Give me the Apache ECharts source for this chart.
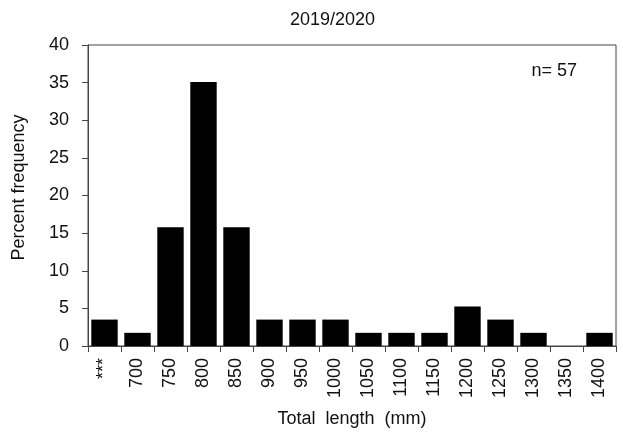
<!DOCTYPE html>
<html><head><meta charset="utf-8">
<script src="https://cdn.jsdelivr.net/npm/echarts@6/dist/echarts.min.js"></script>
<style>html,body{margin:0;padding:0;background:#fff}#c{width:623px;height:433px}</style>
</head><body><div id="c"></div>
<script>
const categories = ['***','700','750','800','850','900','950','1000','1050','1100','1150','1200','1250','1300','1350','1400'];
const percentFrequency = [3.51,1.75,15.79,35.09,15.79,3.51,3.51,3.51,1.75,1.75,1.75,5.26,3.51,1.75,0,1.75];
const yTicks = [0,5,10,15,20,25,30,35,40];
const titleText = '2019/2020';
const nText = 'n= 57';
const font = 'Liberation Sans, Arial, sans-serif';
const chart = echarts.init(document.getElementById('c'));
chart.setOption({
  animation:false,
  title:{text:titleText,left:285,top:6,textStyle:{fontFamily:font,fontSize:18,fontWeight:'normal',color:'#111'}},
  grid:{left:88,right:7,top:45,bottom:87,outerBoundsMode:'none',containLabel:false,show:true,borderColor:'#444',borderWidth:1,backgroundColor:'transparent'},
  graphic:[{type:'text',right:46,top:62,style:{text:nText,font:'18px '+font,fill:'#111'}}],
  xAxis:{type:'category',data:categories,name:'Total  length  (mm)',nameLocation:'middle',nameGap:64,
    nameTextStyle:{fontFamily:font,fontSize:18,color:'#111'},
    axisLine:{lineStyle:{color:'#444',width:1}},
    axisTick:{show:true,alignWithLabel:false,length:6,lineStyle:{color:'#444'}},
    axisLabel:{rotate:90,interval:0,margin:12,fontFamily:font,fontSize:18,color:'#111'}},
  yAxis:{type:'value',min:0,max:40,interval:5,name:'Percent frequency',nameLocation:'middle',nameGap:60,
    nameTextStyle:{fontFamily:font,fontSize:18,color:'#111',padding:[0,0,0,16]},
    splitLine:{show:false},
    axisLine:{show:true,lineStyle:{color:'#444',width:1}},
    axisTick:{show:true,length:6,lineStyle:{color:'#444'}},
    axisLabel:{margin:19,fontFamily:font,fontSize:18,color:'#111',
      formatter:v=>yTicks.includes(v)?String(v):''}},
  series:[{type:'bar',data:percentFrequency,barCategoryGap:'20%',itemStyle:{color:'#000'}}]
});
</script></body></html>
